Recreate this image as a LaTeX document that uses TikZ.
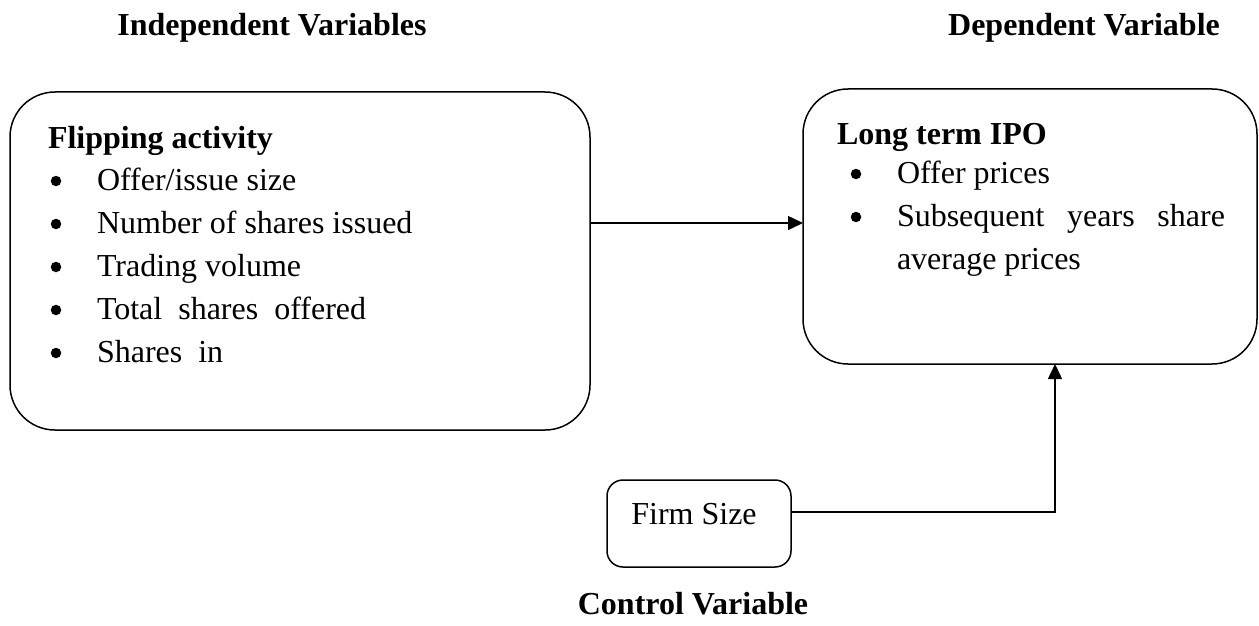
\documentclass[tikz,border=0pt]{standalone}
\usepackage{fontspec}
\setmainfont{Liberation Serif}
\usetikzlibrary{arrows.meta}
\begin{document}
\begin{tikzpicture}[x=1pt,y=-1pt,
  every node/.style={inner sep=0pt,outer sep=0pt,font=\fontsize{32}{38}\selectfont},
  rbox/.style={draw,line width=1.5pt,rounded corners=45pt},
  smallbox/.style={draw,line width=1.5pt,rounded corners=16pt},
  heading/.style={font=\fontsize{32}{38}\selectfont\bfseries},
  item/.style={anchor=base west},
  dot/.style={circle,fill,minimum size=10.5pt},
  arr/.style={line width=1.5pt,-{Triangle[length=15pt,width=14pt]}}]
\useasboundingbox (0,0) rectangle (1259,626);

% column headings
\node[heading,anchor=base] (hIndep) at (272,36) {Independent Variables};
\node[heading,anchor=base] (hDep) at (1084,36) {Dependent Variable};
\node[heading,anchor=base] (hCtrl) at (693,614) {Control Variable};

% boxes
\node[rbox,minimum width=580pt,minimum height=338pt] (left) at (300,261) {};
\node[rbox,minimum width=454pt,minimum height=275pt] (right) at (1030,226.5) {};
\node[smallbox,minimum width=184pt,minimum height=87pt] (firm) at (699,523.5) {};

% independent variables
\node[heading,item] (flip) at (48,148) {Flipping activity};
\node[dot] (fb1) at (56,181) {};
\node[item] (ft1) at (97,190) {Offer/issue size};
\node[dot] (fb2) at (56,224) {};
\node[item] (ft2) at (97,233) {Number of shares issued};
\node[dot] (fb3) at (56,267) {};
\node[item] (ft3) at (97,276) {Trading volume};
\node[dot] (fb4) at (56,310) {};
\node[item] (ft4) at (97,319) {Total\ \ shares\ \ offered};
\node[dot] (fb5) at (56,353) {};
\node[item] (ft5) at (97,362) {Shares\ \ in};

% dependent variable
\node[heading,item] (ipo) at (837,144) {Long term IPO};
\node[dot] (db1) at (856,174) {};
\node[item] (dt1) at (897,183) {Offer prices};
\node[dot] (db2) at (856,217) {};
\node[item] (dt2) at (897,226) {\makebox[328pt][s]{Subsequent years share}};
\node[item] (dt3) at (897,269) {average prices};

% control variable
\node[anchor=base] (firmtxt) at (694,524) {Firm Size};

% connectors
\draw[arr] ([yshift=38pt]left.east) -- ([yshift=38pt]left.east -| right.west);
\draw[arr] ([yshift=11.5pt]firm.east) -| ([xshift=25pt]right.south);
\end{tikzpicture}
\end{document}
